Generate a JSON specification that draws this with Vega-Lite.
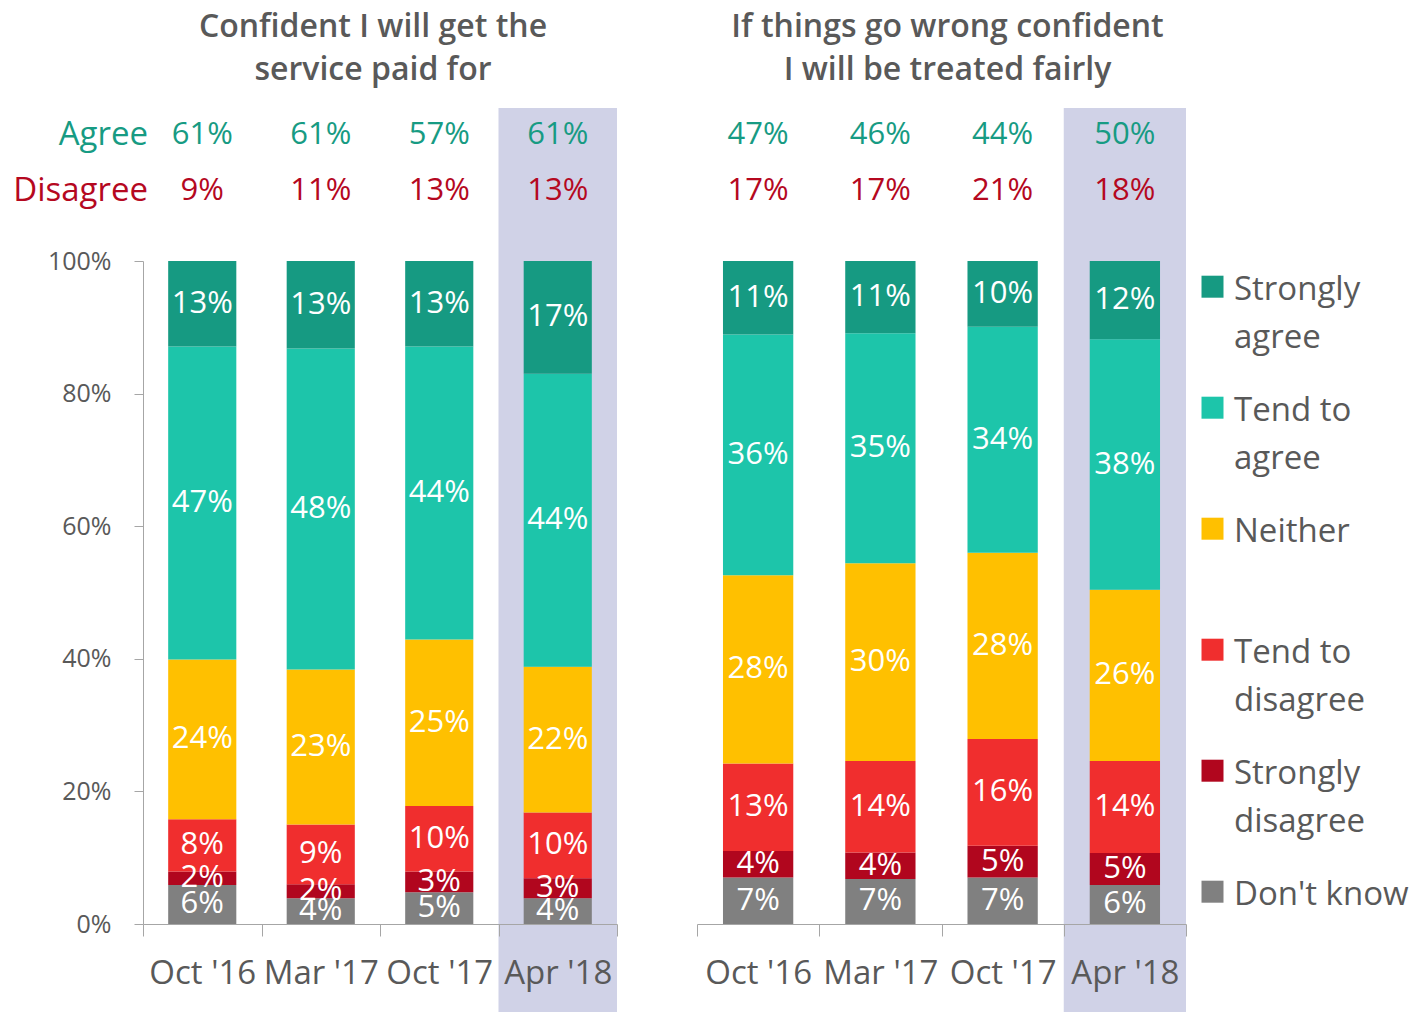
{
  "$schema": "https://vega.github.io/schema/vega-lite/v6.json",
  "background": "white",
  "padding": {"left": 13, "top": 10, "right": 5, "bottom": 0},
  "config": {
    "font": "Open Sans",
    "view": {"stroke": null},
    "axis": {"zindex": 1, "domainColor": "#a6a6a6", "tickColor": "#a6a6a6", "labelColor": "#595959", "grid": false},
    "style": {"guide-label": {"lineHeight": 48}},
    "legend": {"padding": 0}
  },
  "datasets": {
    "one": [{}],
    "net": [
      {"panel": "A", "period": "Oct '16", "measure": "Agree", "value": 0.61},
      {"panel": "A", "period": "Mar '17", "measure": "Agree", "value": 0.61},
      {"panel": "A", "period": "Oct '17", "measure": "Agree", "value": 0.57},
      {"panel": "A", "period": "Apr '18", "measure": "Agree", "value": 0.61},
      {"panel": "A", "period": "Oct '16", "measure": "Disagree", "value": 0.09},
      {"panel": "A", "period": "Mar '17", "measure": "Disagree", "value": 0.11},
      {"panel": "A", "period": "Oct '17", "measure": "Disagree", "value": 0.13},
      {"panel": "A", "period": "Apr '18", "measure": "Disagree", "value": 0.13},
      {"panel": "B", "period": "Oct '16", "measure": "Agree", "value": 0.47},
      {"panel": "B", "period": "Mar '17", "measure": "Agree", "value": 0.46},
      {"panel": "B", "period": "Oct '17", "measure": "Agree", "value": 0.44},
      {"panel": "B", "period": "Apr '18", "measure": "Agree", "value": 0.50},
      {"panel": "B", "period": "Oct '16", "measure": "Disagree", "value": 0.17},
      {"panel": "B", "period": "Mar '17", "measure": "Disagree", "value": 0.17},
      {"panel": "B", "period": "Oct '17", "measure": "Disagree", "value": 0.21},
      {"panel": "B", "period": "Apr '18", "measure": "Disagree", "value": 0.18}
    ],
    "bars": [
      {"panel": "A", "period": "Oct '16", "category": "Don't know", "rank": 1, "value": 0.059},
      {"panel": "A", "period": "Oct '16", "category": "Strongly disagree", "rank": 2, "value": 0.020},
      {"panel": "A", "period": "Oct '16", "category": "Tend to disagree", "rank": 3, "value": 0.079},
      {"panel": "A", "period": "Oct '16", "category": "Neither", "rank": 4, "value": 0.241},
      {"panel": "A", "period": "Oct '16", "category": "Tend to agree", "rank": 5, "value": 0.472},
      {"panel": "A", "period": "Oct '16", "category": "Strongly agree", "rank": 6, "value": 0.129},
      {"panel": "A", "period": "Mar '17", "category": "Don't know", "rank": 1, "value": 0.039},
      {"panel": "A", "period": "Mar '17", "category": "Strongly disagree", "rank": 2, "value": 0.021},
      {"panel": "A", "period": "Mar '17", "category": "Tend to disagree", "rank": 3, "value": 0.090},
      {"panel": "A", "period": "Mar '17", "category": "Neither", "rank": 4, "value": 0.234},
      {"panel": "A", "period": "Mar '17", "category": "Tend to agree", "rank": 5, "value": 0.484},
      {"panel": "A", "period": "Mar '17", "category": "Strongly agree", "rank": 6, "value": 0.132},
      {"panel": "A", "period": "Oct '17", "category": "Don't know", "rank": 1, "value": 0.048},
      {"panel": "A", "period": "Oct '17", "category": "Strongly disagree", "rank": 2, "value": 0.031},
      {"panel": "A", "period": "Oct '17", "category": "Tend to disagree", "rank": 3, "value": 0.099},
      {"panel": "A", "period": "Oct '17", "category": "Neither", "rank": 4, "value": 0.251},
      {"panel": "A", "period": "Oct '17", "category": "Tend to agree", "rank": 5, "value": 0.442},
      {"panel": "A", "period": "Oct '17", "category": "Strongly agree", "rank": 6, "value": 0.129},
      {"panel": "A", "period": "Apr '18", "category": "Don't know", "rank": 1, "value": 0.039},
      {"panel": "A", "period": "Apr '18", "category": "Strongly disagree", "rank": 2, "value": 0.030},
      {"panel": "A", "period": "Apr '18", "category": "Tend to disagree", "rank": 3, "value": 0.099},
      {"panel": "A", "period": "Apr '18", "category": "Neither", "rank": 4, "value": 0.220},
      {"panel": "A", "period": "Apr '18", "category": "Tend to agree", "rank": 5, "value": 0.442},
      {"panel": "A", "period": "Apr '18", "category": "Strongly agree", "rank": 6, "value": 0.170},
      {"panel": "B", "period": "Oct '16", "category": "Don't know", "rank": 1, "value": 0.070},
      {"panel": "B", "period": "Oct '16", "category": "Strongly disagree", "rank": 2, "value": 0.040},
      {"panel": "B", "period": "Oct '16", "category": "Tend to disagree", "rank": 3, "value": 0.132},
      {"panel": "B", "period": "Oct '16", "category": "Neither", "rank": 4, "value": 0.284},
      {"panel": "B", "period": "Oct '16", "category": "Tend to agree", "rank": 5, "value": 0.363},
      {"panel": "B", "period": "Oct '16", "category": "Strongly agree", "rank": 6, "value": 0.111},
      {"panel": "B", "period": "Mar '17", "category": "Don't know", "rank": 1, "value": 0.068},
      {"panel": "B", "period": "Mar '17", "category": "Strongly disagree", "rank": 2, "value": 0.040},
      {"panel": "B", "period": "Mar '17", "category": "Tend to disagree", "rank": 3, "value": 0.138},
      {"panel": "B", "period": "Mar '17", "category": "Neither", "rank": 4, "value": 0.298},
      {"panel": "B", "period": "Mar '17", "category": "Tend to agree", "rank": 5, "value": 0.347},
      {"panel": "B", "period": "Mar '17", "category": "Strongly agree", "rank": 6, "value": 0.109},
      {"panel": "B", "period": "Oct '17", "category": "Don't know", "rank": 1, "value": 0.070},
      {"panel": "B", "period": "Oct '17", "category": "Strongly disagree", "rank": 2, "value": 0.048},
      {"panel": "B", "period": "Oct '17", "category": "Tend to disagree", "rank": 3, "value": 0.161},
      {"panel": "B", "period": "Oct '17", "category": "Neither", "rank": 4, "value": 0.281},
      {"panel": "B", "period": "Oct '17", "category": "Tend to agree", "rank": 5, "value": 0.341},
      {"panel": "B", "period": "Oct '17", "category": "Strongly agree", "rank": 6, "value": 0.099},
      {"panel": "B", "period": "Apr '18", "category": "Don't know", "rank": 1, "value": 0.059},
      {"panel": "B", "period": "Apr '18", "category": "Strongly disagree", "rank": 2, "value": 0.048},
      {"panel": "B", "period": "Apr '18", "category": "Tend to disagree", "rank": 3, "value": 0.139},
      {"panel": "B", "period": "Apr '18", "category": "Neither", "rank": 4, "value": 0.258},
      {"panel": "B", "period": "Apr '18", "category": "Tend to agree", "rank": 5, "value": 0.378},
      {"panel": "B", "period": "Apr '18", "category": "Strongly agree", "rank": 6, "value": 0.118}
    ]
  },
  "spacing": 78,
  "hconcat": [
    {
      "width": 474,
      "height": 663,
      "title": {"text": ["Confident I will get the", "service paid for"], "fontSize": 32, "fontWeight": 600, "color": "#595959", "lineHeight": 43, "anchor": "middle", "frame": "group", "offset": 21, "dx": -7},
      "layer": [
        {
          "data": {"name": "one"},
          "mark": {"type": "rect", "color": "#d0d2e7"},
          "encoding": {
            "x": {"datum": "Apr '18", "type": "nominal", "scale": {"domain": ["Oct '16", "Mar '17", "Oct '17", "Apr '18"], "paddingInner": 0, "paddingOuter": 0},
                  "axis": {"title": null, "zindex": 1, "labelAngle": 0, "tickBand": "extent", "tickSize": 12, "labelFontSize": 33, "labelPadding": 21}},
            "y": {"datum": -0.1327, "type": "quantitative", "scale": {"domain": [0, 1], "nice": false},
                  "axis": {"title": null, "zindex": 1, "values": [0, 0.2, 0.4, 0.6, 0.8, 1], "format": ".0%", "tickSize": 9, "labelFontSize": 25, "labelPadding": 23}},
            "y2": {"datum": 1.2308}
          }
        },
        {
          "data": {"name": "bars"},
          "transform": [{"filter": "datum.panel == 'A'"}],
          "mark": {"type": "bar", "width": {"band": 0.575}},
          "encoding": {
            "x": {"field": "period", "type": "nominal", "scale": {"domain": ["Oct '16", "Mar '17", "Oct '17", "Apr '18"], "paddingInner": 0, "paddingOuter": 0},
                  "axis": {"title": null, "zindex": 1, "labelAngle": 0, "tickBand": "extent", "tickSize": 12, "labelFontSize": 33, "labelPadding": 21}},
            "y": {"field": "value", "type": "quantitative", "stack": "zero", "scale": {"domain": [0, 1], "nice": false},
                  "axis": {"title": null, "zindex": 1, "values": [0, 0.2, 0.4, 0.6, 0.8, 1], "format": ".0%", "tickSize": 9, "labelFontSize": 25, "labelPadding": 23}},
            "color": {"field": "category", "type": "nominal",
                      "scale": {"domain": ["Strongly agree", "Tend to agree", "Neither", "Tend to disagree", "Strongly disagree", "Don't know"],
                                "range": ["#169a82", "#1dc5aa", "#ffc000", "#f02e2e", "#b1061e", "#808080"]},
                      "legend": {"orient": "none", "legendX": 1053, "legendY": -4, "title": null,
                                 "symbolType": "M -1 0.2 H 1 V 2.2 H -1 Z", "symbolSize": 484, "symbolStrokeWidth": 0, "symbolOpacity": 1,
                                 "labelFontSize": 33, "labelColor": "#595959", "labelBaseline": "top", "labelOffset": 5, "labelLimit": 400,
                                 "rowPadding": 23,
                                 "labelExpr": "datum.label == 'Strongly agree' ? ['Strongly', 'agree'] : datum.label == 'Tend to agree' ? ['Tend to', 'agree'] : datum.label == 'Tend to disagree' ? ['Tend to', 'disagree'] : datum.label == 'Strongly disagree' ? ['Strongly', 'disagree'] : [datum.label, ' ']"}},
            "order": {"field": "rank", "type": "quantitative"}
          }
        },
        {
          "data": {"name": "bars"},
          "transform": [{"filter": "datum.panel == 'A'"}],
          "mark": {"type": "text", "color": "white", "fontSize": 31, "baseline": "middle"},
          "encoding": {
            "x": {"field": "period", "type": "nominal", "scale": {"domain": ["Oct '16", "Mar '17", "Oct '17", "Apr '18"], "paddingInner": 0, "paddingOuter": 0},
                  "axis": {"title": null, "zindex": 1, "labelAngle": 0, "tickBand": "extent", "tickSize": 12, "labelFontSize": 33, "labelPadding": 21}},
            "y": {"field": "value", "type": "quantitative", "stack": "zero", "bandPosition": 0.5, "scale": {"domain": [0, 1], "nice": false},
                  "axis": {"title": null, "zindex": 1, "values": [0, 0.2, 0.4, 0.6, 0.8, 1], "format": ".0%", "tickSize": 9, "labelFontSize": 25, "labelPadding": 23}},
            "detail": {"field": "category"},
            "order": {"field": "rank", "type": "quantitative"},
            "text": {"field": "value", "type": "quantitative", "format": ".0%"}
          }
        },
        {
          "data": {"name": "net"},
          "transform": [{"filter": "datum.panel == 'A' && datum.measure == 'Agree'"}],
          "mark": {"type": "text", "color": "#179b83", "fontSize": 31, "baseline": "middle"},
          "encoding": {
            "x": {"field": "period", "type": "nominal", "scale": {"domain": ["Oct '16", "Mar '17", "Oct '17", "Apr '18"], "paddingInner": 0, "paddingOuter": 0},
                  "axis": {"title": null, "zindex": 1, "labelAngle": 0, "tickBand": "extent", "tickSize": 12, "labelFontSize": 33, "labelPadding": 21}},
            "y": {"datum": 1.19, "type": "quantitative", "scale": {"domain": [0, 1], "nice": false},
                  "axis": {"title": null, "zindex": 1, "values": [0, 0.2, 0.4, 0.6, 0.8, 1], "format": ".0%", "tickSize": 9, "labelFontSize": 25, "labelPadding": 23}},
            "text": {"field": "value", "type": "quantitative", "format": ".0%"}
          }
        },
        {
          "data": {"name": "net"},
          "transform": [{"filter": "datum.panel == 'A' && datum.measure == 'Disagree'"}],
          "mark": {"type": "text", "color": "#b5081f", "fontSize": 31, "baseline": "middle"},
          "encoding": {
            "x": {"field": "period", "type": "nominal", "scale": {"domain": ["Oct '16", "Mar '17", "Oct '17", "Apr '18"], "paddingInner": 0, "paddingOuter": 0},
                  "axis": {"title": null, "zindex": 1, "labelAngle": 0, "tickBand": "extent", "tickSize": 12, "labelFontSize": 33, "labelPadding": 21}},
            "y": {"datum": 1.1056, "type": "quantitative", "scale": {"domain": [0, 1], "nice": false},
                  "axis": {"title": null, "zindex": 1, "values": [0, 0.2, 0.4, 0.6, 0.8, 1], "format": ".0%", "tickSize": 9, "labelFontSize": 25, "labelPadding": 23}},
            "text": {"field": "value", "type": "quantitative", "format": ".0%"}
          }
        },
        {
          "data": {"name": "one"},
          "mark": {"type": "text", "text": "Agree", "color": "#179b83", "fontSize": 33, "align": "right", "baseline": "middle", "dx": 5},
          "encoding": {
            "x": {"datum": "Oct '16", "type": "nominal", "bandPosition": 0, "scale": {"domain": ["Oct '16", "Mar '17", "Oct '17", "Apr '18"], "paddingInner": 0, "paddingOuter": 0},
                  "axis": {"title": null, "zindex": 1, "labelAngle": 0, "tickBand": "extent", "tickSize": 12, "labelFontSize": 33, "labelPadding": 21}},
            "y": {"datum": 1.19, "type": "quantitative", "scale": {"domain": [0, 1], "nice": false},
                  "axis": {"title": null, "zindex": 1, "values": [0, 0.2, 0.4, 0.6, 0.8, 1], "format": ".0%", "tickSize": 9, "labelFontSize": 25, "labelPadding": 23}}
          }
        },
        {
          "data": {"name": "one"},
          "mark": {"type": "text", "text": "Disagree", "color": "#b5081f", "fontSize": 33, "align": "right", "baseline": "middle", "dx": 5},
          "encoding": {
            "x": {"datum": "Oct '16", "type": "nominal", "bandPosition": 0, "scale": {"domain": ["Oct '16", "Mar '17", "Oct '17", "Apr '18"], "paddingInner": 0, "paddingOuter": 0},
                  "axis": {"title": null, "zindex": 1, "labelAngle": 0, "tickBand": "extent", "tickSize": 12, "labelFontSize": 33, "labelPadding": 21}},
            "y": {"datum": 1.1056, "type": "quantitative", "scale": {"domain": [0, 1], "nice": false},
                  "axis": {"title": null, "zindex": 1, "values": [0, 0.2, 0.4, 0.6, 0.8, 1], "format": ".0%", "tickSize": 9, "labelFontSize": 25, "labelPadding": 23}}
          }
        }
      ]
    },
    {
      "width": 489,
      "height": 663,
      "title": {"text": ["If things go wrong confident", "I will be treated fairly"], "fontSize": 32, "fontWeight": 600, "color": "#595959", "lineHeight": 43, "anchor": "middle", "frame": "group", "offset": 21, "dx": 6},
      "layer": [
        {
          "data": {"name": "one"},
          "mark": {"type": "rect", "color": "#d0d2e7"},
          "encoding": {
            "x": {"datum": "Apr '18", "type": "nominal", "scale": {"domain": ["Oct '16", "Mar '17", "Oct '17", "Apr '18"], "paddingInner": 0, "paddingOuter": 0},
                  "axis": {"title": null, "zindex": 1, "labelAngle": 0, "tickBand": "extent", "tickSize": 12, "labelFontSize": 33, "labelPadding": 21}},
            "y": {"datum": -0.1327, "type": "quantitative", "scale": {"domain": [0, 1], "nice": false}, "axis": null},
            "y2": {"datum": 1.2308}
          }
        },
        {
          "data": {"name": "bars"},
          "transform": [{"filter": "datum.panel == 'B'"}],
          "mark": {"type": "bar", "width": {"band": 0.575}},
          "encoding": {
            "x": {"field": "period", "type": "nominal", "scale": {"domain": ["Oct '16", "Mar '17", "Oct '17", "Apr '18"], "paddingInner": 0, "paddingOuter": 0},
                  "axis": {"title": null, "zindex": 1, "labelAngle": 0, "tickBand": "extent", "tickSize": 12, "labelFontSize": 33, "labelPadding": 21}},
            "y": {"field": "value", "type": "quantitative", "stack": "zero", "scale": {"domain": [0, 1], "nice": false}, "axis": null},
            "color": {"field": "category", "type": "nominal",
                      "scale": {"domain": ["Strongly agree", "Tend to agree", "Neither", "Tend to disagree", "Strongly disagree", "Don't know"],
                                "range": ["#169a82", "#1dc5aa", "#ffc000", "#f02e2e", "#b1061e", "#808080"]}},
            "order": {"field": "rank", "type": "quantitative"}
          }
        },
        {
          "data": {"name": "bars"},
          "transform": [{"filter": "datum.panel == 'B'"}],
          "mark": {"type": "text", "color": "white", "fontSize": 31, "baseline": "middle"},
          "encoding": {
            "x": {"field": "period", "type": "nominal", "scale": {"domain": ["Oct '16", "Mar '17", "Oct '17", "Apr '18"], "paddingInner": 0, "paddingOuter": 0},
                  "axis": {"title": null, "zindex": 1, "labelAngle": 0, "tickBand": "extent", "tickSize": 12, "labelFontSize": 33, "labelPadding": 21}},
            "y": {"field": "value", "type": "quantitative", "stack": "zero", "bandPosition": 0.5, "scale": {"domain": [0, 1], "nice": false}, "axis": null},
            "detail": {"field": "category"},
            "order": {"field": "rank", "type": "quantitative"},
            "text": {"field": "value", "type": "quantitative", "format": ".0%"}
          }
        },
        {
          "data": {"name": "net"},
          "transform": [{"filter": "datum.panel == 'B' && datum.measure == 'Agree'"}],
          "mark": {"type": "text", "color": "#179b83", "fontSize": 31, "baseline": "middle"},
          "encoding": {
            "x": {"field": "period", "type": "nominal", "scale": {"domain": ["Oct '16", "Mar '17", "Oct '17", "Apr '18"], "paddingInner": 0, "paddingOuter": 0},
                  "axis": {"title": null, "zindex": 1, "labelAngle": 0, "tickBand": "extent", "tickSize": 12, "labelFontSize": 33, "labelPadding": 21}},
            "y": {"datum": 1.19, "type": "quantitative", "scale": {"domain": [0, 1], "nice": false}, "axis": null},
            "text": {"field": "value", "type": "quantitative", "format": ".0%"}
          }
        },
        {
          "data": {"name": "net"},
          "transform": [{"filter": "datum.panel == 'B' && datum.measure == 'Disagree'"}],
          "mark": {"type": "text", "color": "#b5081f", "fontSize": 31, "baseline": "middle"},
          "encoding": {
            "x": {"field": "period", "type": "nominal", "scale": {"domain": ["Oct '16", "Mar '17", "Oct '17", "Apr '18"], "paddingInner": 0, "paddingOuter": 0},
                  "axis": {"title": null, "zindex": 1, "labelAngle": 0, "tickBand": "extent", "tickSize": 12, "labelFontSize": 33, "labelPadding": 21}},
            "y": {"datum": 1.1056, "type": "quantitative", "scale": {"domain": [0, 1], "nice": false}, "axis": null},
            "text": {"field": "value", "type": "quantitative", "format": ".0%"}
          }
        }
      ]
    }
  ]
}
